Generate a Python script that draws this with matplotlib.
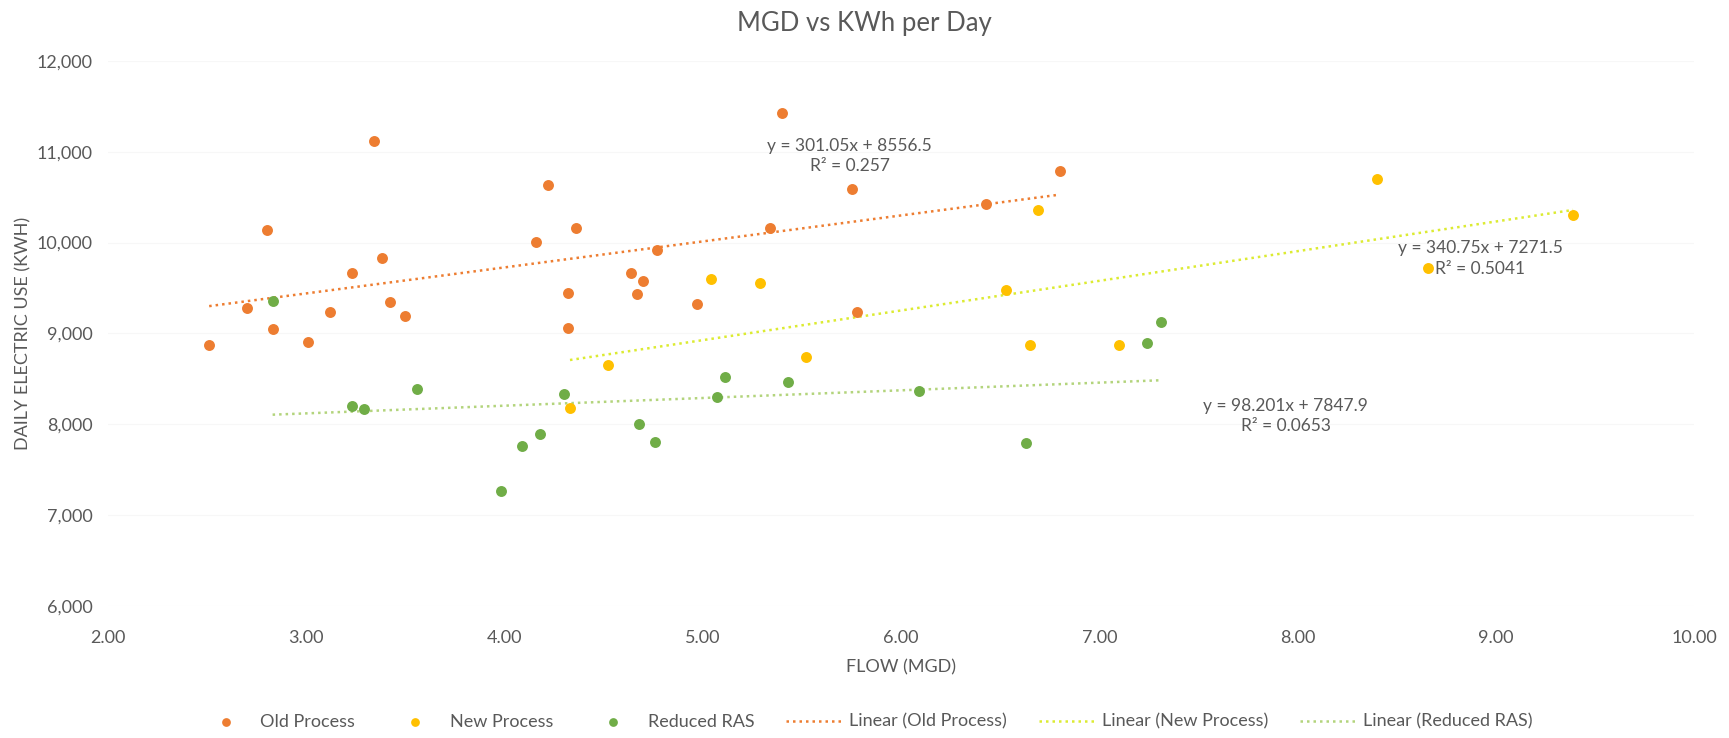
import numpy as np
import matplotlib.pyplot as plt
from matplotlib.ticker import FuncFormatter

# Old process readings (flow MGD, daily kWh)
old_x = [2.51, 2.70, 2.80, 2.83, 3.01, 3.12, 3.23, 3.34, 3.38, 3.42, 3.50,
         4.16, 4.22, 4.32, 4.32, 4.36, 4.64, 4.67, 4.70, 4.77, 4.97, 5.34,
         5.40, 5.75, 5.78, 6.43, 6.80]
old_y = [8870, 9275, 10140, 9050, 8900, 9230, 9665, 11120, 9830, 9350, 9195,
         10010, 10630, 9450, 9060, 10155, 9665, 9435, 9575, 9915, 9320, 10165,
         11425, 10590, 9240, 10420, 10785]

# New process
new_x = [4.33, 4.52, 5.04, 5.29, 5.52, 6.53, 6.65, 6.69, 7.10, 8.40, 8.66, 9.39]
new_y = [8175, 8650, 9595, 9560, 8740, 9480, 8870, 10360, 8870, 10700, 9725, 10300]

# Reduced RAS
ras_x = [2.83, 3.23, 3.29, 3.56, 3.98, 4.09, 4.18, 4.30, 4.68, 4.76, 5.07,
         5.11, 5.43, 6.09, 6.63, 7.24, 7.31]
ras_y = [9355, 8205, 8170, 8385, 7270, 7765, 7890, 8335, 8000, 7800, 8305,
         8515, 8465, 8370, 7790, 8895, 9120]

# equation labels as printed on the chart
old_eq = 'y = 301.05x + 8556.5\nR² = 0.257'
new_eq = 'y = 340.75x + 7271.5\nR² = 0.5041'
ras_eq = 'y = 98.201x + 7847.9\nR² = 0.0653'

x_ticks = [2, 3, 4, 5, 6, 7, 8, 9, 10]
y_ticks = [6000, 7000, 8000, 9000, 10000, 11000, 12000]

plt.rcParams['font.family'] = ['Lato', 'DejaVu Sans']
grey = '#595959'

fig = plt.figure(figsize=(17.29, 7.38), dpi=100)
ax = fig.add_axes([0.0625, 0.179, 0.9173, 0.7385])

series = [
    ('Old Process', old_x, old_y, '#ED7D31', '#ED7D31'),
    ('New Process', new_x, new_y, '#FFC000', '#DCEB32'),
    ('Reduced RAS', ras_x, ras_y, '#70AD47', '#B3D47C'),
]

scatters = []
lines = []
for name, xs, ys, col, lcol in series:
    sc = ax.scatter(xs, ys, s=62, color=col, zorder=3, label=name, linewidths=0)
    scatters.append(sc)
    # linear trendline over the range of the series
    m, b = np.polyfit(xs, ys, 1)
    xx = np.array([min(xs), max(xs)])
    ln, = ax.plot(xx, m * xx + b, color=lcol, lw=1.8,
                  linestyle=(0, (1, 1.6)), zorder=2, label=f'Linear ({name})')
    lines.append(ln)

# equation labels
for lx, ly, txt in [(5.74, 10955, old_eq), (8.92, 9823, new_eq), (7.94, 8092, ras_eq)]:
    ax.text(lx, ly, txt, ha='center', va='center',
            fontsize=12.5, color=grey, linespacing=1.35, zorder=4)

ax.set_xlim(2, 10)
ax.set_ylim(6000, 12000)
ax.set_xticks(x_ticks)
ax.set_yticks(y_ticks)
ax.xaxis.set_major_formatter(FuncFormatter(lambda v, p: f'{v:.2f}'))
ax.yaxis.set_major_formatter(FuncFormatter(lambda v, p: f'{v:,.0f}'))
ax.tick_params(axis='both', length=0, labelsize=13, colors=grey)
ax.tick_params(axis='x', pad=17)
ax.tick_params(axis='y', pad=11)
ax.grid(axis='y', color='#f7f7f7', lw=0.8)
ax.set_axisbelow(True)
for sp in ax.spines.values():
    sp.set_visible(False)

ax.set_xlabel('FLOW (MGD)', fontsize=13, color=grey, labelpad=10)
ax.set_ylabel('DAILY ELECTRIC USE (KWH)', fontsize=13, color=grey, labelpad=4)
fig.suptitle('MGD vs KWh per Day', fontsize=18.5, color=grey, y=0.985)

fig.legend(handles=scatters + lines, loc='center', bbox_to_anchor=(0.5, 0.022),
           ncol=6, frameon=False, fontsize=13, labelcolor=grey, handlelength=3.2,
           columnspacing=1.75, handletextpad=0.3, markerscale=0.8)

fig.savefig('out.png', dpi=100, facecolor='white')
